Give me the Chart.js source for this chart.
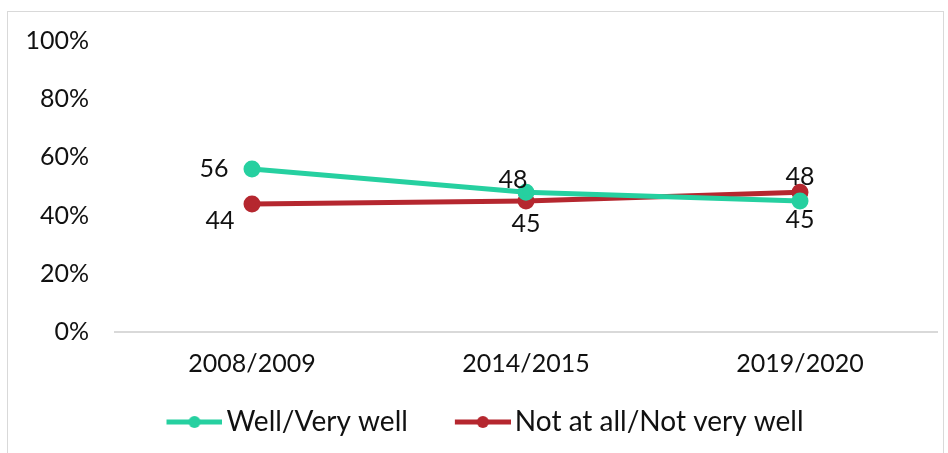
<!DOCTYPE html>
<html>
<head>
<meta charset="utf-8">
<script src="https://cdn.jsdelivr.net/npm/chart.js@4/dist/chart.umd.min.js"></script>
<style>
  html, body { margin: 0; padding: 0; background: #fff; }
  #wrap { position: relative; width: 948px; height: 453px; }
  #frame { position: absolute; left: 7px; top: 11px; width: 937px; height: 460px; border: 1px solid #d9d9d9; box-sizing: border-box; }
  canvas { position: absolute; left: 0; top: 0; }
</style>
</head>
<body>
<div id="wrap">
  <div id="frame"></div>
  <canvas id="grafico" width="948" height="453"></canvas>
</div>
<script>
const periodos = ["2008/2009", "2014/2015", "2019/2020"];
const bien = [56, 48, 45];
const nadaBien = [44, 45, 48];
const ticksY = [0, 20, 40, 60, 80, 100];

const verde = "#26d0a0";
const rojo = "#b5272f";
const fuente = "Lato, 'DejaVu Sans', sans-serif";

// where each value label sits relative to its point
const posVerde = [[-38, 0], [-13, -12], [0, 19]];
const posRojo = [[-32, 17], [0, 23], [0, -15]];

// legend marker: transparent lead-in on the left, line + dot on the right
const anchoCaja = 73;
function marcador(color) {
    const c = document.createElement("canvas");
    c.width = anchoCaja + 20;
    c.height = 14;
    const ctx = c.getContext("2d");
    const x0 = c.width - 56;
    ctx.strokeStyle = color;
    ctx.lineWidth = 5;
    ctx.beginPath();
    ctx.moveTo(x0, 7);
    ctx.lineTo(c.width, 7);
    ctx.stroke();
    ctx.fillStyle = color;
    ctx.beginPath();
    ctx.arc(x0 + 28, 7, 6, 0, Math.PI * 2);
    ctx.fill();
    return c;
}

const etiquetas = {
    id: "etiquetas",
    afterDatasetsDraw(chart) {
        const ctx = chart.ctx;
        ctx.save();
        ctx.font = "25px " + fuente;
        ctx.fillStyle = "#111";
        ctx.textAlign = "center";
        ctx.textBaseline = "middle";
        chart.data.datasets.forEach((ds, i) => {
            const pos = i === 0 ? posVerde : posRojo;
            chart.getDatasetMeta(i).data.forEach((p, j) => {
                ctx.fillText(String(ds.data[j]), p.x + pos[j][0], p.y + pos[j][1]);
            });
        });
        ctx.restore();
    }
};

new Chart(document.getElementById("grafico"), {
    type: "line",
    data: {
        labels: periodos,
        datasets: [
            {
                label: "Well/Very well",
                data: bien,
                borderColor: verde,
                backgroundColor: verde,
                borderWidth: 5,
                pointRadius: 6,
                pointStyle: "circle",
                tension: 0
            },
            {
                label: "Not at all/Not very well",
                data: nadaBien,
                borderColor: rojo,
                backgroundColor: rojo,
                borderWidth: 5,
                pointRadius: 6,
                pointStyle: "circle",
                tension: 0
            }
        ]
    },
    options: {
        responsive: false,
        animation: false,
        layout: { padding: { top: 41, right: 11, bottom: 7, left: 6 } },
        scales: {
            x: {
                offset: true,
                grid: { display: false, offset: true },
                border: { display: true, color: "#d9d9d9", width: 2 },
                ticks: { color: "#111", font: { family: fuente, size: 25 }, padding: 9 }
            },
            y: {
                min: 0,
                max: 100,
                grid: { display: false },
                border: { display: false },
                afterFit(scale) { scale.width = 109; },
                afterBuildTicks(scale) { scale.ticks = ticksY.map(v => ({ value: v })); },
                ticks: {
                    color: "#111",
                    font: { family: fuente, size: 25 },
                    padding: 18,
                    callback: v => v + "%"
                }
            }
        },
        plugins: {
            legend: {
                position: "bottom",
                labels: {
                    color: "#111",
                    font: { family: fuente, size: 28 },
                    usePointStyle: true,
                    pointStyleWidth: anchoCaja,
                    padding: 20,
                    generateLabels(chart) {
                        return chart.data.datasets.map((ds, i) => ({
                            text: ds.label,
                            fillStyle: ds.borderColor,
                            strokeStyle: ds.borderColor,
                            fontColor: "#111",
                            pointStyle: marcador(ds.borderColor),
                            lineWidth: 0,
                            datasetIndex: i,
                            hidden: false
                        }));
                    }
                }
            },
            tooltip: { enabled: false }
        }
    },
    plugins: [etiquetas]
});
</script>
</body>
</html>
